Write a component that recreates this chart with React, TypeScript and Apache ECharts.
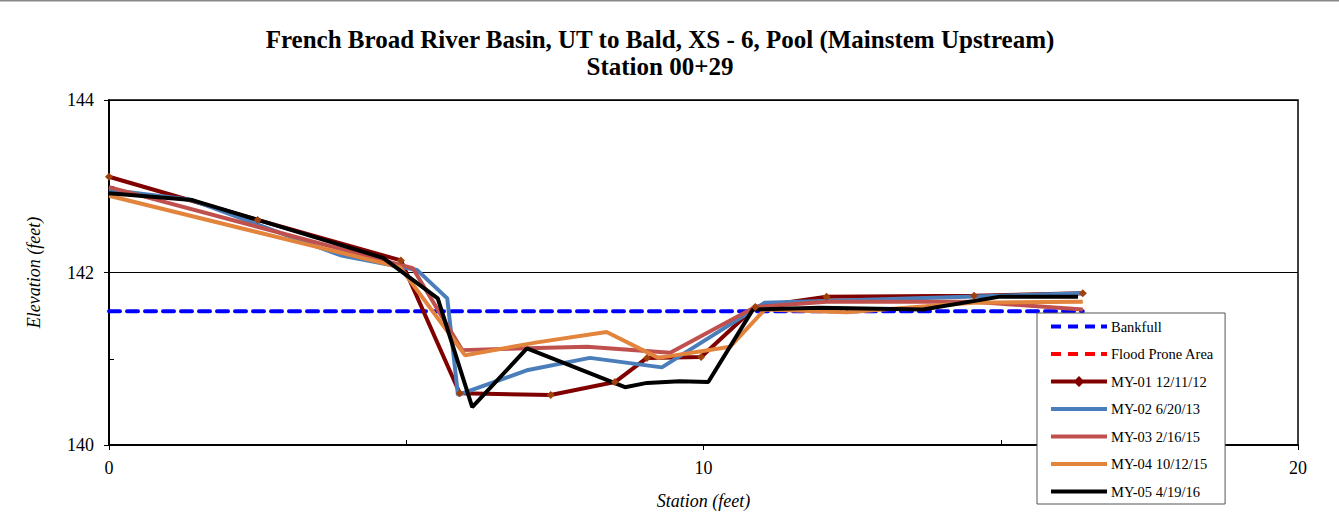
import React, { useEffect, useRef } from "react";
import * as echarts from "echarts";

const titleText = "French Broad River Basin, UT to Bald, XS - 6, Pool (Mainstem Upstream)\nStation 00+29";

const bankfullStation = [0, 16.38];
const bankfullElev = [141.55, 141.55];

const my01Station = [0, 2.5, 4.91, 5.9, 7.43, 8.51, 9.05, 9.96, 10.87, 12.07, 14.55, 16.38];
const my01Elev = [143.11, 142.61, 142.14, 140.6, 140.58, 140.73, 141.01, 141.02, 141.6, 141.72, 141.73, 141.76];

const my02Station = [0, 1.4, 3.89, 5.18, 5.69, 5.87, 7.05, 8.09, 9.3, 11.03, 16.38];
const my02Elev = [142.96, 142.84, 142.2, 142.03, 141.7, 140.58, 140.87, 141.01, 140.9, 141.65, 141.76];

const my03Station = [0, 5.11, 5.94, 8.04, 9.44, 10.87, 12.07, 14.55, 16.38];
const my03Elev = [142.99, 142.05, 141.1, 141.14, 141.07, 141.6, 141.66, 141.66, 141.57];

const my04Station = [0, 4.9, 5.99, 7.2, 8.37, 9.24, 10.45, 11.03, 12.41, 14.53, 16.38];
const my04Elev = [142.89, 142.06, 141.04, 141.19, 141.31, 141.01, 141.14, 141.57, 141.54, 141.65, 141.66];

const my05Station = [0, 1.4, 4.61, 5.53, 6.11, 7.03, 8.68, 9.05, 9.6, 10.08, 10.83, 11.96, 13.69, 14.99, 16.3];
const my05Elev = [142.92, 142.84, 142.17, 141.7, 140.44, 141.12, 140.67, 140.72, 140.74, 140.73, 141.57, 141.59, 141.57, 141.72, 141.72];

const pairs = (xs: number[], ys: number[]) => xs.map((x, i) => [x, ys[i]]);

const FONT = "Liberation Serif";

const DASH_ICON = "path://M0,3h10v4h-10z M17,3h10v4h-10z M34,3h10v4h-10z M50,3h6v4h-6z";
const LINE_ICON = "path://M0,3h56v4h-56z";
const DIAMOND_ICON = "path://M0,3h24.5l3.5,-3.5l3.5,3.5h24.5v4h-24.5l-3.5,3.5l-3.5,-3.5h-24.5z";

export default function App() {
  const ref = useRef<HTMLDivElement>(null);
  useEffect(() => {
    if (!ref.current) return;
    const chart = echarts.init(ref.current, undefined, { renderer: "svg" });
    const line = (name: string, data: number[][], color: string, extra: any = {}) => ({
      name,
      type: "line",
      data,
      symbol: "none",
      lineStyle: { color, width: 4 },
      itemStyle: { color },
      z: 2,
      ...extra,
    });
    const legendItem = (name: string, icon: string, color: string) => ({
      name,
      icon,
      itemStyle: { color, borderWidth: 0 },
    });
    chart.setOption({
      animation: false,
      backgroundColor: "#fff",
      textStyle: { fontFamily: FONT },
      title: {
        text: titleText,
        left: 655,
        top: 21,
        textAlign: "center",
        textStyle: { fontFamily: FONT, fontSize: 25, fontWeight: "bold", color: "#000", lineHeight: 27 },
      },
      graphic: [
        { type: "line", shape: { x1: 0, y1: 0.5, x2: 1339, y2: 0.5 }, style: { stroke: "#888", lineWidth: 2 } },
      ],
      grid: { left: 109, right: 41, top: 100, bottom: 79, show: true, borderColor: "#000", borderWidth: 1.5, containLabel: false },
      legend: {
        orient: "vertical",
        left: 1037,
        top: 313,
        itemWidth: 56,
        itemHeight: 14,
        itemGap: 12.5,
        symbolKeepAspect: true,
        padding: [6, 11, 5, 14],
        borderColor: "#555",
        borderWidth: 1,
        backgroundColor: "#fff",
        textStyle: { fontFamily: FONT, fontSize: 14.5, lineHeight: 14, color: "#000", padding: [0, 0, 0, -1] },
        data: [
          legendItem("Bankfull", DASH_ICON, "#0000FF"),
          legendItem("Flood Prone Area", DASH_ICON, "#FF0000"),
          legendItem("MY-01 12/11/12", DIAMOND_ICON, "#800000"),
          legendItem("MY-02 6/20/13", LINE_ICON, "#4A7EBB"),
          legendItem("MY-03 2/16/15", LINE_ICON, "#C0504D"),
          legendItem("MY-04 10/12/15", LINE_ICON, "#E2843C"),
          legendItem("MY-05 4/19/16", LINE_ICON, "#000000"),
        ],
        z: 10,
      },
      xAxis: {
        type: "value",
        min: 0,
        max: 20,
        interval: 10,
        name: "Station (feet)",
        nameLocation: "middle",
        nameGap: 47,
        nameTextStyle: { fontFamily: FONT, fontSize: 18, fontStyle: "italic", color: "#000" },
        axisLine: { lineStyle: { color: "#000", width: 2 } },
        axisTick: { show: true, length: 5, lineStyle: { color: "#000", width: 1 } },
        minorTick: { show: true, splitNumber: 2, length: -5, lineStyle: { color: "#000", width: 1 } },
        axisLabel: { fontFamily: FONT, fontSize: 18, color: "#000", margin: 14 },
        splitLine: { show: false },
      },
      yAxis: {
        type: "value",
        min: 140,
        max: 144,
        interval: 2,
        name: "Elevation (feet)",
        nameLocation: "middle",
        nameGap: 66,
        nameTextStyle: { fontFamily: FONT, fontSize: 18, fontStyle: "italic", color: "#000" },
        axisLine: { lineStyle: { color: "#000", width: 2 } },
        axisTick: { show: true, length: 5, lineStyle: { color: "#000", width: 1 } },
        minorTick: { show: true, splitNumber: 2, length: -5, lineStyle: { color: "#000", width: 1 } },
        axisLabel: { fontFamily: FONT, fontSize: 18, color: "#000", margin: 15 },
        splitLine: { show: true, lineStyle: { color: "#000", width: 1 } },
      },
      series: [
        line("Bankfull", pairs(bankfullStation, bankfullElev), "#0000FF", {
          lineStyle: { color: "#0000FF", width: 4, type: [11, 7], cap: "round" },
          z: 1,
        }),
        line("Flood Prone Area", [], "#FF0000", {
          lineStyle: { color: "#FF0000", width: 4, type: [11, 7], cap: "round" },
          z: 1,
        }),
        line("MY-01 12/11/12", pairs(my01Station, my01Elev), "#800000", {
          symbol: "diamond",
          symbolSize: 8,
          showSymbol: true,
          itemStyle: { color: "#A0410D", borderWidth: 0 },
          lineStyle: { color: "#800000", width: 4 },
        }),
        line("MY-02 6/20/13", pairs(my02Station, my02Elev), "#4A7EBB"),
        line("MY-03 2/16/15", pairs(my03Station, my03Elev), "#C0504D"),
        line("MY-04 10/12/15", pairs(my04Station, my04Elev), "#E2843C"),
        line("MY-05 4/19/16", pairs(my05Station, my05Elev), "#000000"),
      ],
    });
    return () => chart.dispose();
  }, []);
  return <div ref={ref} style={{ position: "fixed", left: 0, top: 0, width: 1339, height: 524 }} />;
}
